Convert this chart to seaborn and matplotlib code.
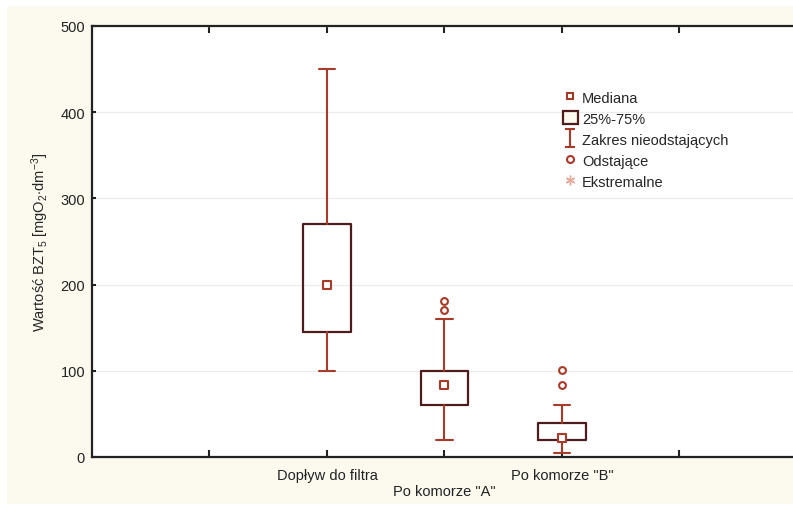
import matplotlib
matplotlib.use("Agg")
import matplotlib.pyplot as plt
from matplotlib.lines import Line2D
from matplotlib.patches import Patch, Rectangle
from matplotlib.path import Path
import pandas as pd
import seaborn as sns

# ---- data ----
categories = ['Dopływ do filtra', 'Po komorze "A"', 'Po komorze "B"']
medians = [200, 83, 22]
q1 = [145, 60, 20]
q3 = [270, 100, 40]
whisker_low = [100, 20, 5]
whisker_high = [450, 160, 60]
outliers = [[], [170, 181], [83, 101]]

sns.set_style("ticks")
plt.rcParams['font.family'] = ['Liberation Sans', 'DejaVu Sans']
plt.rcParams['mathtext.fontset'] = 'custom'
plt.rcParams['mathtext.rm'] = 'Liberation Sans'
plt.rcParams['mathtext.it'] = 'Liberation Sans:italic'

box_edge = '#4e1c1c'
whisk_col = '#a83a28'
cream = '#fcf9ee'

fig = plt.figure(figsize=(7.93, 5.10), dpi=100, facecolor='white')
fig.patches.append(Rectangle((7 / 793, 5 / 510), 1, 498 / 510, transform=fig.transFigure,
                             facecolor=cream, edgecolor='none', zorder=-10))
ax = fig.add_axes([92 / 793, 52 / 510, 705 / 793, 431 / 510])
ax.set_facecolor('white')

positions = [2, 3, 4]
stats = []
for i, name in enumerate(categories):
    stats.append(dict(label=name, med=medians[i], q1=q1[i], q3=q3[i],
                      whislo=whisker_low[i], whishi=whisker_high[i], fliers=[]))

ax.bxp(stats, positions=positions, widths=0.405, showfliers=False,
       boxprops=dict(color=box_edge, linewidth=1.6),
       whiskerprops=dict(color=whisk_col, linewidth=1.5),
       capprops=dict(color=whisk_col, linewidth=1.5),
       medianprops=dict(visible=False), capwidths=0.14, manage_ticks=False)

med_df = pd.DataFrame({'x': positions, 'y': medians})
sns.scatterplot(data=med_df, x='x', y='y', marker='s', s=26, facecolor='white',
                edgecolor=whisk_col, linewidth=1.5, ax=ax, zorder=5)

out_x, out_y = [], []
for p, vals in zip(positions, outliers):
    for v in vals:
        out_x.append(p)
        out_y.append(v)
out_df = pd.DataFrame({'x': out_x, 'y': out_y})
sns.scatterplot(data=out_df, x='x', y='y', marker='o', s=24, facecolor='white',
                edgecolor=whisk_col, linewidth=1.5, ax=ax, zorder=5)

ax.set_xlim(0, 6)
ax.set_ylim(0, 500)
ax.set_yticks([0, 100, 200, 300, 400, 500])
ax.set_xticks([1, 2, 3, 4, 5])
ax.set_xticklabels(['', categories[0], '\n' + categories[1], categories[2], ''])
ax.tick_params(direction='in', length=5, width=1.5, top=True, right=True,
               labelsize=10.5, colors='#222222', pad=8)
ax.tick_params(axis='y', length=3, pad=5)
ax.grid(axis='y', color='#ececec', linewidth=0.9)
for sp in ax.spines.values():
    sp.set_linewidth(1.6)
    sp.set_color('#222222')
    sp.set_visible(True)

ax.set_xlabel('')
ax.set_ylabel(r'Wartość BZT$_5$ [mgO$_2$$\cdot$dm$^{-3}$]', fontsize=10.5, labelpad=7)

# legend
whisker_marker = Path([(-0.5, 1), (0.5, 1), (0, 1), (0, -1), (-0.5, -1), (0.5, -1)],
                      [Path.MOVETO, Path.LINETO, Path.MOVETO, Path.LINETO, Path.MOVETO, Path.LINETO])
handles = [
    Line2D([], [], linestyle='none', marker='s', markersize=5, markerfacecolor='white',
           markeredgecolor=whisk_col, markeredgewidth=1.5),
    Patch(facecolor=cream, edgecolor=box_edge, linewidth=1.6),
    Line2D([], [], linestyle='none', marker=whisker_marker, markersize=13,
           markerfacecolor='none', markeredgecolor=whisk_col, markeredgewidth=1.5),
    Line2D([], [], linestyle='none', marker='o', markersize=5, markerfacecolor='white',
           markeredgecolor=whisk_col, markeredgewidth=1.5),
    Line2D([], [], linestyle='none', marker=(6, 2, 0), markersize=7,
           markeredgecolor='#e6a898', markeredgewidth=1.0),
]
labels = ['Mediana', '25%-75%', 'Zakres nieodstających', 'Odstające', 'Ekstremalne']
ax.legend(handles, labels, loc='upper left', bbox_to_anchor=(0.668, 0.851), frameon=False,
          fontsize=10.5, handlelength=1.0, handleheight=1.0, handletextpad=0.3,
          labelspacing=0.45, borderaxespad=0, borderpad=0)

fig.savefig('out.png', dpi=100, facecolor=fig.get_facecolor())
